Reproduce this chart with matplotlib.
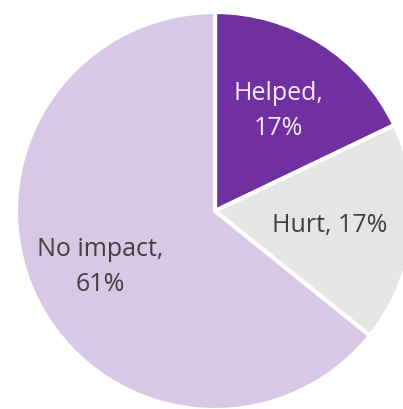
import matplotlib
matplotlib.use("Agg")
import matplotlib.pyplot as plt
import numpy as np

categories = ["Helped", "Hurt", "No impact"]
values = [17, 17, 61]
label_texts = ["Helped,\n17%", "Hurt, 17%", "No impact,\n61%"]
colors = ["#7030A0", "#E5E5E5", "#D8C7E5"]
text_colors = ["#F2ECF6", "#404040", "#404040"]
label_dist = [0.6, 0.58, 0.64]

fig = plt.figure(figsize=(4.03, 4.10), dpi=100)
ax = fig.add_axes([0, 0, 1, 1])
wedges, texts = ax.pie(values, labels=label_texts, colors=colors, startangle=90,
                       counterclock=False, labeldistance=0.6, radius=1.0,
                       wedgeprops=dict(edgecolor="white", linewidth=3),
                       textprops=dict(fontsize=18, family="Open Sans"))
for w, t, c, d in zip(wedges, texts, text_colors, label_dist):
    ang = np.deg2rad((w.theta1 + w.theta2) / 2)
    t.set_position((d * np.cos(ang), d * np.sin(ang)))
    t.set_color(c)
    t.set_ha("center")
    t.set_va("center")
    t.set_multialignment("center")
    t.set_linespacing(1.5)

px = 199.0
ax.set_xlim(-215 / px, (403 - 215) / px)
ax.set_ylim(-(410 - 212) / px, 212 / px)
ax.set_aspect("auto")
ax.axis("off")
fig.savefig("out.png", dpi=100)
